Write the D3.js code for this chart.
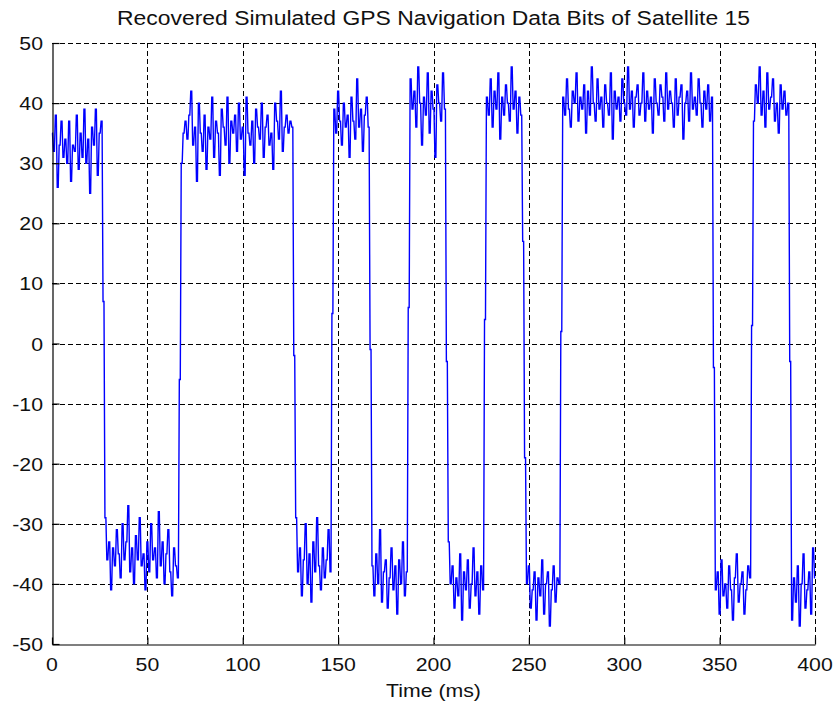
<!DOCTYPE html>
<html>
<head>
<meta charset="utf-8">
<script src="https://cdn.jsdelivr.net/npm/d3@7"></script>
<style>
  html, body { margin: 0; padding: 0; background: #ffffff; }
  svg { display: block; }
  text { font-family: "Liberation Sans", Arial, Helvetica, sans-serif; fill: #111; }
</style>
</head>
<body>
<svg id="chart" width="834" height="706"></svg>
<script>
// Correlator output of satellite 15, one sample per millisecond (t = 0 … 400 ms)
const sampleStepMs = 1;
const recoveredBits = [
  // 0–26 ms
  35,32,38,26,33,37,31,34,30,37,27,33,32,38,29,35,31,39,30,34,25,36,33,39,28,35,37,
  7,
  // 28–66 ms
  -29,-36,-33,-41,-34,-37,-31,-35,-39,-30,-36,-33,-27,-38,-34,-40,-32,-36,-29,-37,
  -35,-41,-33,-38,-30,-36,-34,-39,-28,-37,-33,-40,-35,-31,-38,-42,-34,-37,-39,
  -6,
  // 68–126 ms
  30,35,37,34,38,42,33,36,27,40,35,32,38,29,36,34,41,31,37,35,
  28,39,36,33,41,30,37,35,38,32,40,34,36,28,41,35,33,37,30,39,
  36,34,40,31,36,38,33,35,29,40,37,34,42,32,36,38,35,37,36,
  -2,
  // 128–146 ms
  -29,-38,-34,-42,-36,-30,-40,-35,-43,-33,-38,-29,-37,-41,-34,-39,-36,-31,-38,
  5,
  // 148–166 ms
  39,35,42,37,33,40,36,38,31,41,37,34,44,36,39,32,38,41,36,
  -1,
  // 168–186 ms
  -37,-42,-35,-40,-31,-43,-38,-36,-44,-39,-34,-41,-37,-45,-36,-40,-33,-42,-38,
  6,
  // 188–206 ms
  44,39,42,36,46,40,33,41,38,45,35,42,39,31,43,40,37,45,39,
  -3,
  // 208–226 ms
  -33,-40,-37,-44,-39,-42,-35,-46,-38,-41,-36,-44,-40,-34,-42,-38,-45,-37,-41,
  4,
  // 228–246 ms
  41,38,44,36,42,39,45,34,41,38,43,40,37,46,39,42,35,41,38,
  17,-19,
  // 249–266 ms
  -40,-37,-44,-41,-38,-46,-39,-42,-36,-45,-40,-38,-47,-41,-37,-43,-39,-40,
  2,
  // 268–346 ms
  41,38,44,39,36,42,40,45,37,41,39,43,35,42,38,46,40,37,44,39,
  41,36,43,40,38,45,34,42,39,41,37,44,40,38,46,39,42,36,41,43,
  38,40,45,37,42,39,41,35,44,40,38,43,41,37,45,39,42,40,36,44,
  38,41,43,34,40,42,37,45,39,41,38,44,40,36,42,39,43,37,41,
  -4,
  // 348–366 ms
  -41,-38,-45,-36,-42,-40,-44,-37,-41,-46,-39,-35,-43,-40,-38,-45,-41,-37,-39,
  3,
  // 368–386 ms
  37,43,40,46,38,42,36,45,39,41,44,37,40,35,43,39,42,38,40,
  -3,
  // 388–400 ms
  -46,-39,-43,-37,-47,-40,-35,-44,-41,-38,-45,-34,-39
];

const xTicks = [0, 50, 100, 150, 200, 250, 300, 350, 400];
const yTicks = [-50, -40, -30, -20, -10, 0, 10, 20, 30, 40, 50];
const xDomain = [0, 400];
const yDomain = [-50, 50];

const titleText = "Recovered Simulated GPS Navigation Data Bits of Satellite 15";
const xLabelText = "Time (ms)";

const svg = d3.select("#chart");
const plot = { left: 52, right: 815, top: 43, bottom: 644 };

const x = d3.scaleLinear().domain(xDomain).range([plot.left, plot.right]);
const y = d3.scaleLinear().domain(yDomain).range([plot.bottom, plot.top]);

const stretch = 1.12;   // wide, Helvetica-like lettering

// dotted grid
const grid = svg.append("g").attr("stroke", "#000").attr("stroke-width", 1.1)
  .attr("stroke-dasharray", "5,3").attr("shape-rendering", "crispEdges");
grid.selectAll("line.v").data(xTicks.filter(d => d !== xDomain[0])).join("line")
  .attr("class", "v")
  .attr("x1", d => Math.round(x(d)) + 0.5).attr("x2", d => Math.round(x(d)) + 0.5)
  .attr("y1", plot.top).attr("y2", plot.bottom);
grid.selectAll("line.h").data(yTicks.filter(d => d !== yDomain[0])).join("line")
  .attr("class", "h")
  .attr("x1", plot.left).attr("x2", plot.right)
  .attr("y1", d => Math.round(y(d)) + 0.5).attr("y2", d => Math.round(y(d)) + 0.5);

// signal trace: each sample is held for half a millisecond, with short ramps between samples
const holdHalf = 0.25 * sampleStepMs;
const heldPoints = recoveredBits.flatMap((v, i) => {
  const t = i * sampleStepMs;
  return [
    [Math.max(xDomain[0], t - holdHalf), v],
    [Math.min(xDomain[1], t + holdHalf), v]
  ];
});
const line = d3.line()
  .x(d => x(d[0]))
  .y(d => y(d[1]));
svg.append("path")
  .datum(heldPoints)
  .attr("fill", "none")
  .attr("stroke", "#0000ff")
  .attr("stroke-width", 1.4)
  .attr("d", line);

// axes: ticks point inward, labels drawn separately
const xAxis = d3.axisBottom(x).tickValues(xTicks).tickSizeInner(-7).tickSizeOuter(0).tickFormat("");
const yAxis = d3.axisLeft(y).tickValues(yTicks).tickSizeInner(-7).tickSizeOuter(0).tickFormat("");
const gx = svg.append("g").attr("transform", `translate(0,${plot.bottom + 0.5})`).call(xAxis);
const gy = svg.append("g").attr("transform", `translate(${plot.left + 0.5},0)`).call(yAxis);
[gx, gy].forEach(g => {
  g.select(".domain").attr("stroke", "#000").attr("stroke-width", 1.2);
  g.selectAll(".tick line").attr("stroke", "#000").attr("stroke-width", 1.2);
});

// tick labels
svg.append("g").selectAll("text").data(xTicks).join("text")
  .attr("transform", d => `translate(${x(d)},671) scale(${stretch},1)`)
  .attr("text-anchor", "middle")
  .attr("font-size", 19)
  .text(d => d);
svg.append("g").selectAll("text").data(yTicks).join("text")
  .attr("transform", d => `translate(43,${y(d) + 7}) scale(${stretch},1)`)
  .attr("text-anchor", "end")
  .attr("font-size", 19)
  .text(d => d);

// title and axis label
svg.append("text")
  .attr("x", 433.5).attr("y", 25)
  .attr("text-anchor", "middle")
  .attr("font-size", 20)
  .attr("textLength", 633).attr("lengthAdjust", "spacingAndGlyphs")
  .text(titleText);
svg.append("text")
  .attr("transform", `translate(433.5,697) scale(${stretch},1)`)
  .attr("text-anchor", "middle")
  .attr("font-size", 19)
  .text(xLabelText);
</script>
</body>
</html>
